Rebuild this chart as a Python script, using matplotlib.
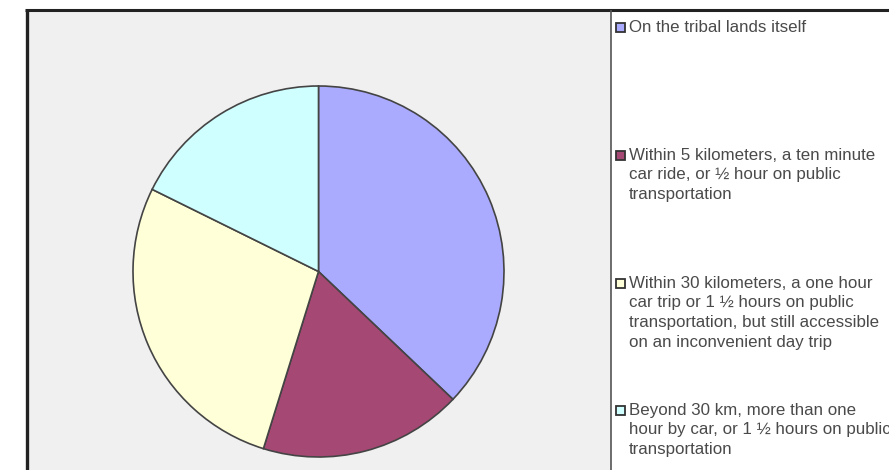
import matplotlib
matplotlib.use("Agg")
import matplotlib.pyplot as plt
from matplotlib.patches import Rectangle
from matplotlib.lines import Line2D

categories = [
    "On the tribal lands itself",
    "Within 5 kilometers, a ten minute\ncar ride, or \u00bd hour on public\ntransportation",
    "Within 30 kilometers, a one hour\ncar trip or 1 \u00bd hours on public\ntransportation, but still accessible\non an inconvenient day trip",
    "Beyond 30 km, more than one\nhour by car, or 1 \u00bd hours on public\ntransportation",
]
values = [37.1, 17.7, 27.5, 17.7]
colors = ["#aaaaff", "#a64874", "#ffffd8", "#d0ffff"]

W, H = 889, 470
fig = plt.figure(figsize=(W / 100, H / 100), dpi=100)
fig.patch.set_facecolor("white")

def fx(x):
    return x / W

def fy(y):
    return 1 - y / H

# plot-area background
fig.patches.append(Rectangle((fx(27), 0), fx(611) - fx(27), fy(10), transform=fig.transFigure,
                             facecolor="#f0f0f0", edgecolor="none", zorder=-5))
# outer frame lines
fig.lines.append(Line2D([fx(26.5), fx(26.5)], [0, fy(9.5)], transform=fig.transFigure,
                        color="#222222", lw=2.4, zorder=3, solid_capstyle="butt"))
fig.lines.append(Line2D([fx(25.3), 1], [fy(9.5), fy(9.5)], transform=fig.transFigure,
                        color="#222222", lw=2.2, zorder=3, solid_capstyle="butt"))
# divider between plot area and legend
fig.lines.append(Line2D([fx(611), fx(611)], [0, fy(10)], transform=fig.transFigure,
                        color="#555555", lw=1.2, zorder=3, solid_capstyle="butt"))

# pie
cx, cy, r = 318.5, 271.5, 185.5
ax = fig.add_axes([fx(cx - r), fy(cy + r), (2 * r) / W, (2 * r) / H])
ax.set_zorder(2)
ax.patch.set_visible(False)
ax.pie(values, colors=colors, startangle=90, counterclock=False,
       wedgeprops=dict(edgecolor="#444444", linewidth=1.2))
ax.set_xlim(-1, 1)
ax.set_ylim(-1, 1)
ax.set_aspect("equal")
ax.axis("off")

# legend
item_y = [27, 155, 283, 410]
line_h = 19.8
for lab, col, y0 in zip(categories, colors, item_y):
    fig.patches.append(Rectangle((fx(615.5), fy(y0 + 4.5)), 9 / W, 9 / H, transform=fig.transFigure,
                                 facecolor=col, edgecolor="#333333", lw=1.3, zorder=4))
    for i, line in enumerate(lab.split("\n")):
        fig.text(fx(629), fy(y0 + i * line_h), line, fontsize=12.2, family="Liberation Sans",
                 color="#4a4a4a", va="center", ha="left")

fig.savefig("out.png", dpi=100)
